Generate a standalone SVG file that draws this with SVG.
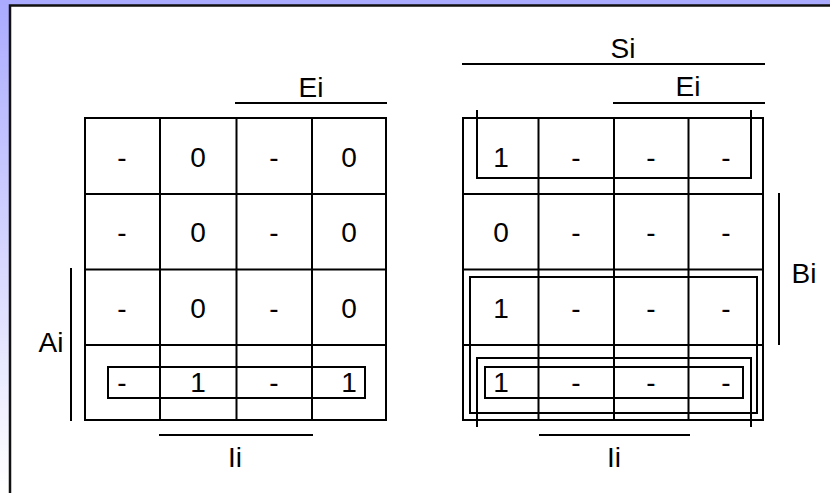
<svg xmlns="http://www.w3.org/2000/svg" width="830" height="493" viewBox="0 0 830 493">
  <defs>
    <linearGradient id="sideFade" x1="0" y1="0" x2="0" y2="1">
      <stop offset="0" stop-color="#aaaaff"/>
      <stop offset="1" stop-color="#ffffff"/>
    </linearGradient>
    <style>
      .ln { stroke: #000; stroke-width: 2; fill: none; }
      .t { font-family: "Liberation Sans", Arial, sans-serif; font-size: 28px; fill: #000; text-anchor: middle; }
    </style>
  </defs>

  <!-- frame -->
  <rect x="0" y="0" width="830" height="493" fill="url(#sideFade)"/>
  <rect x="0" y="0" width="830" height="5" fill="#aaaaff"/>
  <rect x="10" y="6" width="820" height="487" fill="#ffffff"/>
  <path d="M10,493 V5.5 H830" stroke="#111" stroke-width="2.5" fill="none"/>

  <!-- left map: grid -->
  <g id="mapA">
    <rect class="ln" x="85" y="118" width="301" height="302"/>
    <path class="ln" d="M160,118 V420 M236.5,118 V420 M312,118 V420 M85,194 H386 M85,269.5 H386 M85,345 H386"/>
    <g class="t">
      <text x="122" y="167">-</text><text x="198" y="167">0</text><text x="274" y="167">-</text><text x="349" y="167">0</text>
      <text x="122" y="242">-</text><text x="198" y="242">0</text><text x="274" y="242">-</text><text x="349" y="242">0</text>
      <text x="122" y="318">-</text><text x="198" y="318">0</text><text x="274" y="318">-</text><text x="349" y="318">0</text>
      <text x="122" y="392">-</text><text x="198" y="392">1</text><text x="274" y="392">-</text><text x="349" y="392">1</text>
    </g>
  </g>

  <!-- left map: variable bars -->
  <g id="labelsA">
    <line class="ln" x1="235" y1="103" x2="387" y2="103"/>
    <text class="t" x="311" y="97">Ei</text>
    <line class="ln" x1="159" y1="435" x2="313" y2="435"/>
    <text class="t" x="235" y="467">Ii</text>
    <line class="ln" x1="71" y1="268" x2="71" y2="421"/>
    <text class="t" x="51" y="352">Ai</text>
  </g>

  <!-- left map: groupings -->
  <g id="loopsA">
    <rect class="ln" x="108" y="367" width="257" height="31"/>
  </g>

  <!-- right map: grid -->
  <g id="mapB">
    <rect class="ln" x="463" y="118" width="300" height="302"/>
    <path class="ln" d="M538.5,118 V420 M614,118 V420 M688.5,118 V420 M463,194 H763 M463,269.5 H763 M463,345 H763"/>
    <g class="t">
      <text x="501" y="167">1</text><text x="576" y="167">-</text><text x="651" y="167">-</text><text x="726" y="167">-</text>
      <text x="501" y="242">0</text><text x="576" y="242">-</text><text x="651" y="242">-</text><text x="726" y="242">-</text>
      <text x="501" y="318">1</text><text x="576" y="318">-</text><text x="651" y="318">-</text><text x="726" y="318">-</text>
      <text x="501" y="392">1</text><text x="576" y="392">-</text><text x="651" y="392">-</text><text x="726" y="392">-</text>
    </g>
  </g>

  <!-- right map: variable bars -->
  <g id="labelsB">
    <line class="ln" x1="462" y1="64" x2="765" y2="64"/>
    <text class="t" x="623" y="58">Si</text>
    <line class="ln" x1="613" y1="103" x2="765" y2="103"/>
    <text class="t" x="688" y="96">Ei</text>
    <line class="ln" x1="539" y1="435" x2="690" y2="435"/>
    <text class="t" x="614" y="467">Ii</text>
    <line class="ln" x1="779" y1="193" x2="779" y2="345"/>
    <text class="t" x="804" y="283">Bi</text>
  </g>

  <!-- right map: groupings -->
  <g id="loopsB">
    <path class="ln" d="M477,110 V178 H751 V110"/>
    <path class="ln" d="M477,427 V358 H751 V427"/>
    <rect class="ln" x="470" y="277" width="287" height="136"/>
    <rect class="ln" x="485" y="367" width="258" height="31"/>
  </g>
</svg>
